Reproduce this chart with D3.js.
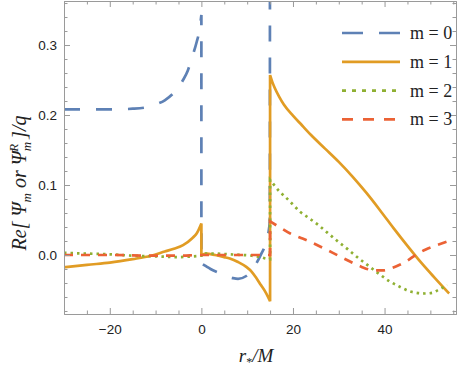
<!DOCTYPE html>
<html lang="en">
<head>
<meta charset="UTF-8">
<title>Re Psi_m</title>
<script src="https://d3js.org/d3.v7.min.js"></script>
<style>
  body { margin: 0; background: #fff; }
  svg { display: block; }
  .tick text { font-family: "Liberation Sans", Arial, sans-serif; font-size: 13.5px; fill: #222; }
  .axis path, .axis line { stroke: #9a9a9a; }
  .lbl { font-family: "Liberation Serif", "Times New Roman", serif; font-style: italic; font-size: 19px; fill: #222; }
  .legend text { font-family: "Liberation Serif", "Times New Roman", serif; font-size: 18px; fill: #222; }
</style>
</head>
<body>
<svg width="457" height="370"></svg>
<script>
// m = 0
const m0X = [-30, -25, -20, -15, -12, -10, -8, -6, -4, -3, -2, -1, -0.4, 0,
             0, 1, 2, 3.6, 5, 6.9, 8, 9.8, 11, 12, 13.1, 14, 14.6, 14.95,
             15, 20, 30, 40, 50, 56];
const m0Y = [0.208, 0.208, 0.208, 0.209, 0.211, 0.215, 0.221, 0.232, 0.25, 0.263, 0.283, 0.305, 0.322, 0.343,
             -0.012, -0.016, -0.02, -0.025, -0.029, -0.033, -0.034, -0.03, -0.022, -0.012, 0.002, 0.015, 0.03, 0.05,
             1, 1, 1, 1, 1, 1];
// m = 1
const m1X = [-30, -25, -20, -15, -11, -8, -6, -4, -2, -1, 0,
             0, 1, 3, 5, 6.2, 8, 9.8, 11, 12, 13, 14, 15,
             15, 15.5, 16, 17, 18, 20, 22, 24, 27, 30, 33, 36, 39, 42, 45, 48, 51, 54.1];
const m1Y = [-0.0176, -0.014, -0.011, -0.006, -0.001, 0.005, 0.009, 0.014, 0.024, 0.031, 0.045,
             0.0, 0.002, 0.0, -0.003, -0.005, -0.01, -0.017, -0.024, -0.033, -0.043, -0.053, -0.066,
             0.257, 0.247, 0.239, 0.226, 0.215, 0.199, 0.185, 0.171, 0.152, 0.133, 0.112, 0.089, 0.064, 0.038, 0.013, -0.011, -0.033, -0.055];
// m = 2
const m2X = [-30, -25, -20, -15, -10, -5, -2, 0,
             0, 3, 6, 9, 11, 12, 13, 14, 15,
             15, 16, 17, 18, 20, 21.5, 23, 25.5, 27.5, 29.5, 32, 34.2, 36.8, 39, 41.2, 43.5, 45.5, 47, 48.8, 50.5, 51.7, 53.7];
const m2Y = [0.003, 0.002, 0.001, -0.001, -0.002, -0.003, -0.002, -0.001,
             0.002, 0.002, 0.001, 0.0, -0.001, -0.002, -0.003, -0.005, -0.006,
             0.107, 0.099, 0.091, 0.085, 0.072, 0.062, 0.055, 0.043, 0.032, 0.021, 0.008, -0.004, -0.017, -0.028, -0.038, -0.046, -0.052, -0.054, -0.055, -0.054, -0.05, -0.043];
// m = 3
const m3X = [-30, -20, -10, -5, 0, 5, 10, 15,
             15, 17, 19.3, 21.5, 23, 26.6, 30.2, 33, 35, 36.8, 38.5, 39.7, 41.5, 43.3, 45, 47, 49, 51, 53.6];
const m3Y = [0, 0, -0.001, -0.001, 0, 0, 0, 0,
             0.048, 0.04, 0.031, 0.025, 0.021, 0.01, -0.002, -0.011, -0.017, -0.021, -0.022, -0.022, -0.019, -0.014, -0.008, 0.001, 0.008, 0.013, 0.019];

const seriesNames = ["m = 0", "m = 1", "m = 2", "m = 3"];
const xMajor = [-20, 0, 20, 40];
const yMajor = [0, 0.1, 0.2, 0.3];

const colors = ["#5E81B5", "#E19C24", "#8FB032", "#EB6235"];
const dashes = ["16,16", null, "2.5,4", "9,8"];

const pL = 64, pR = 456, pT = 1, pB = 314;
const svg = d3.select("svg");

const x = d3.scaleLinear().domain([-30, 55.6]).range([pL, pR]);
const y = d3.scaleLinear().domain([-0.0843, 0.3629]).range([pB, pT]);

svg.append("clipPath").attr("id", "plot")
  .append("rect").attr("x", pL).attr("y", pT)
  .attr("width", pR - pL).attr("height", pB - pT);

// split each series where x repeats (jump), smooth each piece, join with straight drops
const line = d3.line().x(d => x(d[0])).y(d => y(d[1])).curve(d3.curveMonotoneX);
function pathFor(xs, ys) {
  const pieces = [[]];
  xs.forEach((v, i) => {
    if (i > 0 && v === xs[i - 1]) pieces.push([]);
    pieces[pieces.length - 1].push([v, ys[i]]);
  });
  return pieces.map((p, i) => {
    const d = line(p);
    return i === 0 ? d : "L" + d.slice(1);
  }).join("");
}

const all = [[m0X, m0Y], [m1X, m1Y], [m2X, m2Y], [m3X, m3Y]];
const g = svg.append("g").attr("clip-path", "url(#plot)");
all.forEach(([xs, ys], i) => {
  g.append("path")
    .attr("d", pathFor(xs, ys))
    .attr("fill", "none")
    .attr("stroke", colors[i])
    .attr("stroke-width", 2.7)
    .attr("stroke-dasharray", dashes[i]);
});

// frame with inward ticks on every side
const xMinor = d3.range(-30, 56, 5).filter(v => !xMajor.includes(v));
const yMinor = d3.range(-8, 37, 2).map(v => v / 100).filter(v => !yMajor.some(m => Math.abs(m - v) < 1e-9));

function side(axisFn, scale, isX, transform, labels) {
  svg.append("g").attr("class", "axis").attr("transform", transform)
    .call(axisFn(scale).tickValues(isX ? xMinor : yMinor).tickSize(-3.5).tickSizeOuter(0).tickFormat(""));
  const a = svg.append("g").attr("class", "axis").attr("transform", transform)
    .call(axisFn(scale).tickValues(isX ? xMajor : yMajor).tickSize(-6).tickSizeOuter(0)
      .tickFormat(labels ? (isX ? d3.format("d") : d3.format(".1f")) : ""));
  return a;
}
const bx = side(d3.axisBottom, x, true, `translate(0,${pB})`, true);
side(d3.axisTop, x, true, `translate(0,${pT})`, false);
const ly = side(d3.axisLeft, y, false, `translate(${pL},0)`, true);
side(d3.axisRight, y, false, `translate(${pR},0)`, false);
bx.selectAll(".tick text").attr("y", 10).attr("dy", "0.71em");
ly.selectAll(".tick text").attr("x", -7).attr("dy", "0.35em");

// axis labels
svg.append("text").attr("class", "lbl")
  .attr("x", 256).attr("y", 362).attr("text-anchor", "middle")
  .call(t => {
    t.append("tspan").text("r");
    t.append("tspan").attr("dy", 4).style("font-size", "12px").style("font-style", "normal").text("*");
    t.append("tspan").attr("dy", -4).text("/M");
  });

svg.append("text").attr("class", "lbl")
  .attr("transform", "translate(26,183) rotate(-90)")
  .attr("text-anchor", "middle")
  .style("font-size", "20px")
  .call(t => {
    t.append("tspan").text("Re[ \u03A8");
    t.append("tspan").attr("dy", 5).style("font-size", "13px").text("m");
    t.append("tspan").attr("dy", -5).text(" or \u03A8");
    t.append("tspan").attr("dy", 5).style("font-size", "13px").text("m");
    t.append("tspan").attr("dx", -10).attr("dy", -13).style("font-size", "13px").text("R");
    t.append("tspan").attr("dy", 8).text(" ]/q");
  });

// legend
const legend = svg.append("g").attr("class", "legend");
seriesNames.forEach((name, i) => {
  const yy = 33 + i * 28.8;
  legend.append("line")
    .attr("x1", 342).attr("x2", 400).attr("y1", yy).attr("y2", yy)
    .attr("stroke", colors[i]).attr("stroke-width", 2.7)
    .attr("stroke-dasharray", i === 0 ? "21,16" : i === 2 ? "4,6" : i === 3 ? "11,10" : null);
  legend.append("text").attr("x", 410).attr("y", yy + 6).text(name);
});
</script>
</body>
</html>
